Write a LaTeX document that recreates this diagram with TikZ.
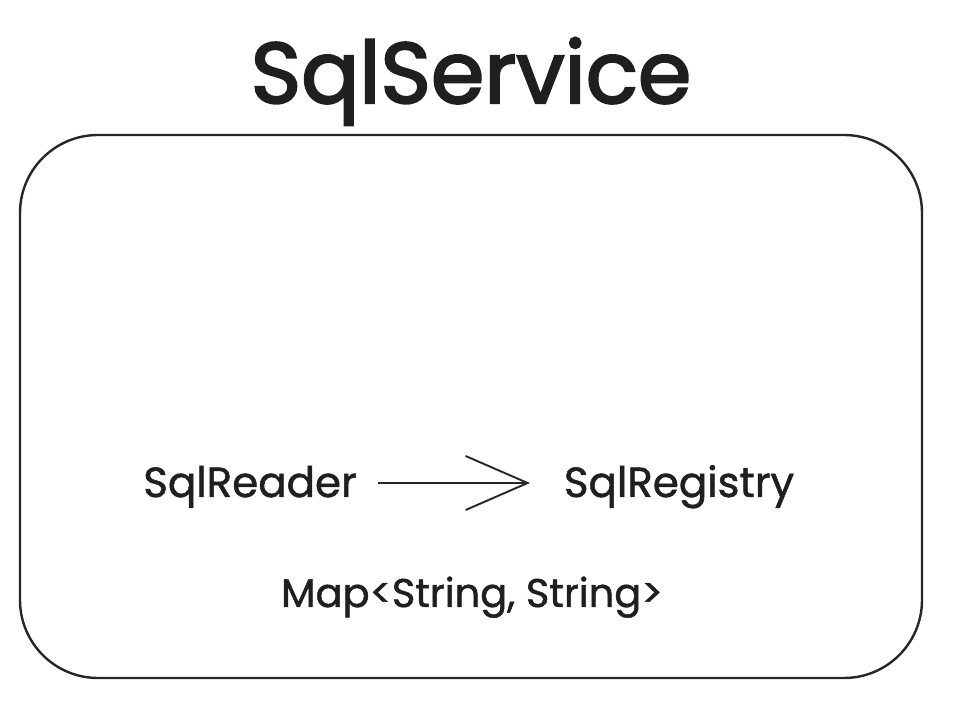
\documentclass[tikz,border=0pt]{standalone}
\usepackage{fontspec}
\setmainfont{Poppins}
\usetikzlibrary{arrows.meta}
\begin{document}
\begin{tikzpicture}[x=1pt,y=1pt,
  lbl/.style={inner sep=0pt, text=black!88, anchor=base},
  frame/.style={draw=black!85, line width=2.4pt, rounded corners=78pt},
  link/.style={draw=black!85, line width=1.9pt, -{Straight Barb[length=62pt,width=54pt,line width=1.9pt]}}]
\useasboundingbox (0,0) rectangle (958,706);
\node[lbl, font=\fontsize{86}{88}\selectfont\addfontfeatures{FakeBold=2.5}] (title) at (471,603) {SqlService};
\draw[frame] (20,28) rectangle (922,571);
\node[lbl, font=\fontsize{42}{44}\selectfont\addfontfeatures{FakeBold=1.2}] (reader) at (250,209) {SqlReader};
\node[lbl, font=\fontsize{42}{44}\selectfont\addfontfeatures{FakeBold=1.2}] (registry) at (679,209) {SqlRegistry};
\node[lbl, font=\fontsize{40}{42}\selectfont\addfontfeatures{FakeBold=1.2}] (map) at (472,99) {Map<String, String>};
\coordinate (a) at (378,223);
\coordinate (b) at (530,223);
\draw[link] (a) -- (b);
\end{tikzpicture}
\end{document}
